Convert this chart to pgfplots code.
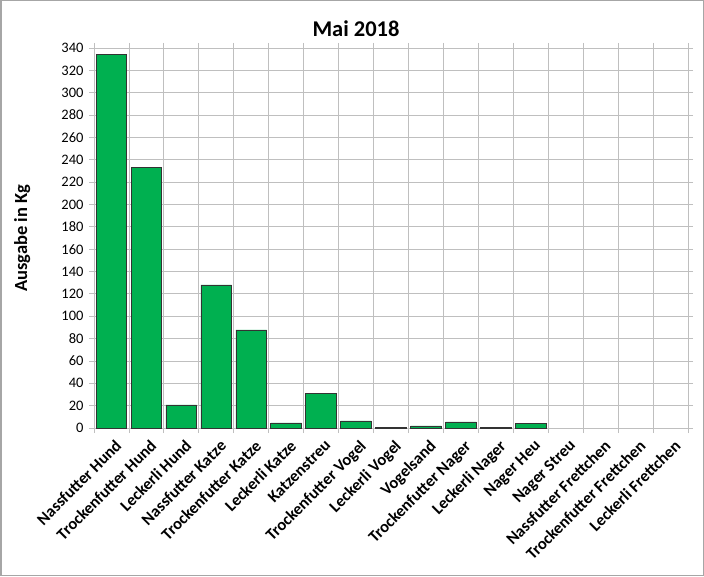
\documentclass[border=0pt]{standalone}
\usepackage{fontspec}
\setmainfont{Carlito}
\usepackage{pgfplots}
\pgfplotsset{compat=1.18}
\definecolor{barg}{HTML}{00B050}
\definecolor{gridg}{HTML}{BFBFBF}
\begin{document}
\begin{tikzpicture}
\useasboundingbox (0pt,0pt) rectangle (704pt,576pt);
\draw[gray!70, line width=1.5pt] (0.75pt,0.75pt) rectangle (703.25pt,575.25pt);
\begin{axis}[
  at={(94pt,148pt)}, anchor=south west, scale only axis,
  width=594pt, height=380pt,
  ymin=0, ymax=340, ytick distance=20,
  xmin=-0.5, xmax=16.5,
  xtick={0,...,16},
  xticklabels={Nassfutter Hund,Trockenfutter Hund,Leckerli Hund,Nassfutter Katze,Trockenfutter Katze,Leckerli Katze,Katzenstreu,Trockenfutter Vogel,Leckerli Vogel,Vogelsand,Trockenfutter Nager,Leckerli Nager,Nager Heu,Nager Streu,Nassfutter Frettchen,Trockenfutter Frettchen,Leckerli Frettchen},
  minor xtick={-0.5,0.5,...,16.5},
  xminorgrids, ymajorgrids,
  grid style={gridg, line width=0.8pt},
  minor grid style={gridg, line width=0.8pt},
  major x tick style={draw=none},
  minor x tick style={gridg, line width=0.8pt},
  y tick style={gridg, line width=0.8pt},
  tick align=outside, major tick length=5pt, minor tick length=5pt,
  axis line style={gridg, line width=0.8pt},
  /pgf/number format/assume math mode=true,
  yticklabel style={font=\fontsize{14.5}{16}\selectfont, xshift=-2pt},
  xticklabel style={font=\bfseries\fontsize{16.5}{18}\selectfont, rotate=45, anchor=north east, inner sep=1pt, xshift=-1pt, yshift=-5pt},
  ylabel={Ausgabe in Kg},
  ylabel style={font=\bfseries\fontsize{18.5}{20}\selectfont, at={(axis description cs:-0.121,0.5)}, anchor=center},
  title={Mai 2018},
  title style={font=\bfseries\fontsize{22.5}{24}\selectfont, at={(axis description cs:0.5,1)}, anchor=south, xshift=-35pt, yshift=2pt},
]
\addplot[ybar, bar width=0.88, fill=barg, draw=black!80, line width=0.7pt] coordinates {
(0,334) (1,232.8) (2,20.6) (3,128) (4,87.7) (5,4.5) (6,30.7) (7,6.3) (8,0.4) (9,1.8) (10,5.4) (11,0.4) (12,3.9)
};
\end{axis}
\end{tikzpicture}
\end{document}
